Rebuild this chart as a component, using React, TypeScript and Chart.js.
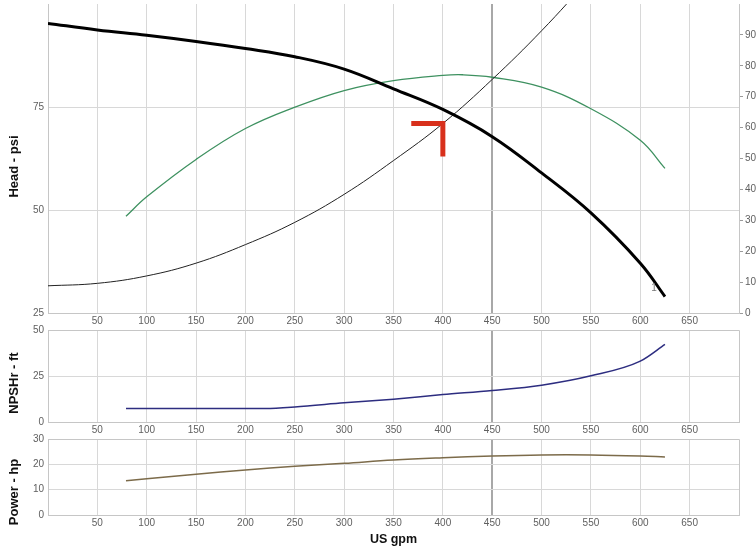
import React, { useEffect, useRef } from "react";
import { Chart, registerables } from "chart.js";

Chart.register(...registerables);

// ---------- data ----------
const flowMin = 0;
const flowMax = 700;
const flowStep = 50;
const markedFlow = 450;

const headFlow = [0, 50, 100, 150, 200, 250, 300, 350, 400, 450, 500, 550, 600, 625];
const headPsi = [95.3, 93.7, 92.4, 90.9, 89.2, 87.2, 84.2, 79.4, 74.4, 67.8, 59.0, 49.3, 37.1, 29.0];

const effFlow = [79, 100, 150, 200, 250, 300, 350, 400, 420, 450, 500, 550, 600, 625];
const effPct = [31.3, 37.6, 49.7, 59.7, 66.6, 72.0, 75.2, 76.9, 77.1, 76.3, 73.1, 66.1, 55.9, 46.8];

const sysFlow = [0, 50, 100, 150, 200, 250, 300, 350, 400, 450, 500, 550];
const sysPsi = [31.6, 32.2, 34.0, 37.1, 41.6, 47.0, 53.8, 62.0, 71.0, 81.7, 93.5, 106.5];

const dutyFlow = [368, 400, 400];
const dutyPsi = [71, 71, 63];

const impellerLabel = { text: "1", flow: 614, psi: 31 };

const npshFlow = [79, 150, 220, 250, 300, 350, 400, 450, 500, 550, 600, 625];
const npshFt = [7.3, 7.3, 7.4, 8.2, 10.4, 12.4, 14.9, 17.1, 20.0, 25.1, 33.1, 42.2];

const powerFlow = [79, 100, 150, 200, 250, 300, 350, 400, 450, 500, 550, 600, 625];
const powerHp = [13.5, 14.3, 16.1, 17.8, 19.2, 20.4, 21.7, 22.6, 23.3, 23.7, 23.7, 23.3, 22.9];

const headTicks = { min: 25, max: 100, step: 25 };
const effTicks = { min: 0, max: 100, step: 10 };
const npshTicks = { min: 0, max: 50, step: 25 };
const powerTicks = { min: 0, max: 30, step: 10 };

const headTitle = "Head - psi";
const npshTitle = "NPSHr - ft";
const powerTitle = "Power - hp";
const flowTitle = "US gpm";

// ---------- style ----------
const FONT = "'Liberation Sans', Arial, sans-serif";
const TICK_COLOR = "#606060";
const GRID = "#d8d8d8";
const GRID_DARK = "#a8a8a8";
const BORDER = "#c6c6c6";
const W = 756;

function pts(xs: number[], ys: number[]) {
  return xs.map((x, i) => ({ x, y: ys[i] }));
}

const tickFont = { family: FONT, size: 10 };

function xScale(height: number, withTitle: boolean): any {
  return {
    type: "linear",
    position: "bottom",
    min: flowMin,
    max: flowMax,
    afterFit: (s: any) => {
      s.height = height;
      s.paddingLeft = 0;
      s.paddingRight = 0;
    },
    ticks: {
      stepSize: flowStep,
      autoSkip: false,
      maxRotation: 0,
      padding: 2,
      color: TICK_COLOR,
      font: tickFont,
      callback: (v: number) => (v === flowMin || v === flowMax ? null : String(v)),
    },
    grid: {
      drawTicks: false,
      color: (c: any) => (c.tick && c.tick.value === markedFlow ? GRID_DARK : GRID),
      lineWidth: (c: any) => (c.tick && c.tick.value === markedFlow ? 2 : 1),
    },
    border: { display: true, color: BORDER },
    title: withTitle
      ? {
          display: true,
          text: flowTitle,
          color: "#111",
          font: { family: FONT, size: 12.5, weight: "bold" },
          padding: { top: 0, bottom: 3 },
        }
      : { display: false },
  };
}

function yScale(t: { min: number; max: number; step: number }, hideTop: boolean): any {
  return {
    type: "linear",
    position: "left",
    min: t.min,
    max: t.max,
    afterFit: (s: any) => {
      s.width = 48;
      s.paddingTop = 0;
      s.paddingBottom = 0;
    },
    ticks: {
      stepSize: t.step,
      padding: 4,
      color: TICK_COLOR,
      font: tickFont,
      callback: (v: number) => (hideTop && v === t.max ? null : String(v)),
    },
    grid: {
      drawTicks: false,
      color: (c: any) => (hideTop && c.tick && c.tick.value === t.max ? "rgba(0,0,0,0)" : GRID),
    },
    border: { display: true, color: BORDER },
  };
}

const framePlugin = {
  id: "frame",
  afterDatasetsDraw(chart: any) {
    const { ctx, chartArea } = chart;
    ctx.save();
    ctx.strokeStyle = BORDER;
    ctx.lineWidth = 1;
    ctx.beginPath();
    ctx.moveTo(Math.round(chartArea.left), Math.round(chartArea.top) + 0.5);
    ctx.lineTo(Math.round(chartArea.right) + 0.5, Math.round(chartArea.top) + 0.5);
    ctx.lineTo(Math.round(chartArea.right) + 0.5, Math.round(chartArea.bottom));
    ctx.stroke();
    ctx.restore();
  },
};

function sideTitlePlugin(text: string, x: number, y: number) {
  return {
    id: "sideTitle",
    afterDraw(chart: any) {
      const ctx = chart.ctx;
      ctx.save();
      ctx.translate(x, y);
      ctx.rotate(-Math.PI / 2);
      ctx.font = `bold 13px ${FONT}`;
      ctx.fillStyle = "#111";
      ctx.textAlign = "center";
      ctx.textBaseline = "middle";
      ctx.fillText(text, 0, 0);
      ctx.restore();
    },
  };
}

const impellerPlugin = {
  id: "impeller",
  afterDatasetsDraw(chart: any) {
    const ctx = chart.ctx;
    const px = chart.scales.x.getPixelForValue(impellerLabel.flow);
    const py = chart.scales.y.getPixelForValue(impellerLabel.psi);
    ctx.save();
    ctx.font = `10px ${FONT}`;
    ctx.fillStyle = "#777";
    ctx.textAlign = "center";
    ctx.textBaseline = "middle";
    ctx.fillText(impellerLabel.text, px, py);
    ctx.restore();
  },
};

const smooth = {
  pointRadius: 0,
  pointHoverRadius: 0,
  fill: false,
  tension: 0.4,
  cubicInterpolationMode: "default" as const,
};

export default function App() {
  const c1 = useRef<HTMLCanvasElement>(null);
  const c2 = useRef<HTMLCanvasElement>(null);
  const c3 = useRef<HTMLCanvasElement>(null);

  useEffect(() => {
    const charts: Chart[] = [];

    charts.push(
      new Chart(c1.current as HTMLCanvasElement, {
        type: "line",
        data: {
          datasets: [
            {
              ...smooth,
              data: pts(dutyFlow, dutyPsi),
              borderColor: "#d8301c",
              borderWidth: 5,
              tension: 0,
              borderJoinStyle: "miter",
              borderCapStyle: "butt",
              yAxisID: "y",
            },
            {
              ...smooth,
              data: pts(headFlow, headPsi),
              borderColor: "#000",
              borderWidth: 3,
              yAxisID: "y",
            },
            {
              ...smooth,
              data: pts(sysFlow, sysPsi),
              borderColor: "#222",
              borderWidth: 1,
              yAxisID: "y",
            },
            {
              ...smooth,
              data: pts(effFlow, effPct),
              borderColor: "#3e9160",
              borderWidth: 1.3,
              yAxisID: "y2",
            },
          ] as any,
        },
        options: {
          responsive: false,
          animation: false,
          devicePixelRatio: 1,
          events: [],
          layout: { padding: { top: 4, left: 0, right: 0, bottom: 0 } },
          plugins: { legend: { display: false }, tooltip: { enabled: false } },
          scales: {
            x: xScale(23, false),
            y: yScale(headTicks, true),
            y2: {
              type: "linear",
              position: "right",
              min: effTicks.min,
              max: effTicks.max,
              afterFit: (s: any) => {
                s.width = 17;
                s.paddingTop = 0;
                s.paddingBottom = 0;
              },
              ticks: {
                stepSize: effTicks.step,
                padding: 2,
                color: TICK_COLOR,
                font: tickFont,
                callback: (v: number) => (v === effTicks.max ? null : String(v)),
              },
              grid: { drawOnChartArea: false, drawTicks: true, tickLength: 4, color: "#9a9a9a" },
              border: { display: true, color: BORDER },
            },
          } as any,
        },
        plugins: [sideTitlePlugin(headTitle, 14.5, 166.5), impellerPlugin],
      })
    );

    charts.push(
      new Chart(c2.current as HTMLCanvasElement, {
        type: "line",
        data: {
          datasets: [
            {
              ...smooth,
              cubicInterpolationMode: "monotone",
              data: pts(npshFlow, npshFt),
              borderColor: "#2d2d80",
              borderWidth: 1.5,
            },
          ] as any,
        },
        options: {
          responsive: false,
          animation: false,
          devicePixelRatio: 1,
          events: [],
          layout: { padding: { top: 14, left: 0, right: 17, bottom: 0 } },
          plugins: { legend: { display: false }, tooltip: { enabled: false } },
          scales: {
            x: xScale(18, false),
            y: yScale(npshTicks, false),
          } as any,
        },
        plugins: [framePlugin, sideTitlePlugin(npshTitle, 14.5, 383 - 316)],
      })
    );

    charts.push(
      new Chart(c3.current as HTMLCanvasElement, {
        type: "line",
        data: {
          datasets: [
            {
              ...smooth,
              data: pts(powerFlow, powerHp),
              borderColor: "#7c6b4a",
              borderWidth: 1.5,
            },
          ] as any,
        },
        options: {
          responsive: false,
          animation: false,
          devicePixelRatio: 1,
          events: [],
          layout: { padding: { top: 13, left: 0, right: 17, bottom: 0 } },
          plugins: { legend: { display: false }, tooltip: { enabled: false } },
          scales: {
            x: xScale(35, true),
            y: yScale(powerTicks, false),
          } as any,
        },
        plugins: [framePlugin, sideTitlePlugin(powerTitle, 14.5, 492 - 426)],
      })
    );

    return () => {
      charts.forEach((c) => c.destroy());
    };
  }, []);

  const canvasStyle = (top: number, h: number): React.CSSProperties => ({
    position: "absolute",
    left: 0,
    top,
    width: W,
    height: h,
  });

  return (
    <div style={{ position: "absolute", left: 0, top: 0, width: W, height: 550, background: "#fff", overflow: "hidden" }}>
      <canvas ref={c1} width={W} height={336} style={canvasStyle(0, 336)} />
      <canvas ref={c2} width={W} height={124} style={canvasStyle(316, 124)} />
      <canvas ref={c3} width={W} height={124} style={canvasStyle(426, 124)} />
    </div>
  );
}
